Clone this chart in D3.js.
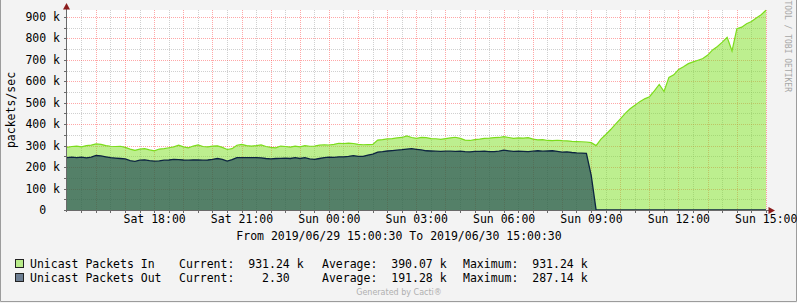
<!DOCTYPE html>
<meta charset="utf-8">
<style>
  body { margin: 0; background: #fff; }
  svg text { font-family: "DejaVu Sans Mono", monospace; font-size: 11.5px; fill: #000; white-space: pre; }
</style>
<svg width="797" height="303"></svg>
<script src="https://d3js.org/d3.v7.min.js"></script>
<script>
    // one sample every 10 minutes, values in k packets/sec
    var startTime = new Date(2019, 5, 29, 15, 0, 30),
        endTime = new Date(2019, 5, 30, 15, 0, 30);

    var packetsIn = [
        292,296,298,294,300,302,308,306,300,297,
        296,297,292,284,278,284,286,280,276,284,
        286,290,294,302,294,290,298,303,296,294,
        298,299,292,282,286,302,306,300,298,300,
        303,296,292,290,298,296,293,298,294,300,
        297,298,302,304,303,306,311,310,312,310,
        306,304,305,306,326,328,331,333,336,338,
        345,338,334,338,337,333,332,329,333,336,
        339,334,326,324,328,330,334,335,337,338,
        342,338,334,336,335,337,330,327,328,324,
        323,325,323,322,320,319,318,317,314,300,
        330,352,375,400,425,450,472,488,505,518,
        528,555,585,552,618,630,655,668,682,690,
        698,706,722,746,762,782,805,741,845,852,
        868,878,895,910,931
    ];

    var packetsOut = [
        244,246,244,246,243,246,254,252,248,244,
        242,240,238,230,227,232,234,230,228,229,
        232,233,236,235,233,232,234,233,232,233,
        236,240,236,228,235,244,244,244,244,244,
        243,240,238,240,241,242,240,244,240,244,
        238,236,240,244,246,245,248,248,250,253,
        250,250,256,260,270,272,275,277,279,281,
        284,286,283,280,276,275,274,273,274,274,
        273,274,272,271,273,273,274,272,272,274,
        279,276,273,274,273,272,274,276,274,275,
        276,273,270,271,268,266,265,264,160,0.0023,
        0.0023,0.0023,0.0023,0.0023,0.0023,0.0023,0.0023,0.0023,0.0023,0.0023,
        0.0023,0.0023,0.0023,0.0023,0.0023,0.0023,0.0023,0.0023,0.0023,0.0023,
        0.0023,0.0023,0.0023,0.0023,0.0023,0.0023,0.0023,0.0023,0.0023,0.0023,
        0.0023,0.0023,0.0023,0.0023,0.0023
    ];

    var seriesNames = ["Unicast Packets In", "Unicast Packets Out"];
    var currentVals = [931.24, 2.30],  currentUnits = ["k", ""];
    var averageVals = [390.07, 191.28], averageUnits = ["k", "k"];
    var maximumVals = [931.24, 287.14], maximumUnits = ["k", "k"];

    var svg = d3.select("svg"),
        W = 797, H = 303,
        plot = {left: 67, right: 766, top: 10, bottom: 210};

    var x = d3.scaleTime().domain([startTime, endTime]).range([plot.left, plot.right]);
    var y = d3.scaleLinear().domain([0, 932]).range([plot.bottom, plot.top]);

    var times = packetsIn.map(function (d, i) { return d3.timeMinute.offset(startTime, i * 10); });
    var px = function (v) { return Math.round(v) + 0.5; };

    // background + frame
    svg.append("rect").attr("width", W).attr("height", H).attr("fill", "#f3f3f3");
    svg.append("path")
        .attr("d", "M0.5,0 V301.5 H796.5 V0")
        .attr("fill", "none").attr("stroke", "#9c9c9c");
    svg.append("rect")
        .attr("x", plot.left).attr("y", plot.top)
        .attr("width", plot.right - plot.left).attr("height", plot.bottom - plot.top)
        .attr("fill", "#fff");

    // grid, drawn under the translucent areas like rrdtool does
    var grid = svg.append("g").attr("stroke-dasharray", "1,1").attr("stroke-width", 1);
    var halfHours = d3.timeMinute.every(30).range(startTime, d3.timeSecond.offset(endTime, 1));
    grid.selectAll("line.v").data(halfHours).enter().append("line")
        .attr("x1", function (d) { return px(x(d)); })
        .attr("x2", function (d) { return px(x(d)); })
        .attr("y1", plot.top).attr("y2", plot.bottom)
        .attr("stroke", function (d) { return d.getMinutes() === 0 ? "rgba(255,60,60,0.45)" : "rgba(150,150,150,0.45)"; });
    var gridVals = y.ticks(20).filter(function (v) { return v > 0; });
    grid.selectAll("line.h").data(gridVals).enter().append("line")
        .attr("y1", function (d) { return px(y(d)); })
        .attr("y2", function (d) { return px(y(d)); })
        .attr("x1", plot.left).attr("x2", plot.right)
        .attr("stroke", function (d) { return d % 100 === 0 ? "rgba(255,60,60,0.45)" : "rgba(150,150,150,0.45)"; });

    // areas
    var areaIn = d3.area()
        .x(function (d, i) { return x(times[i]); })
        .y0(y(0))
        .y1(function (d) { return y(d); });
    var lineFn = d3.line()
        .x(function (d, i) { return x(times[i]); })
        .y(function (d) { return y(d); });

    svg.append("path").datum(packetsIn)
        .attr("d", areaIn)
        .attr("fill", "rgba(128,224,40,0.52)");
    svg.append("path").datum(packetsOut)
        .attr("d", areaIn)
        .attr("fill", "rgba(20,60,80,0.62)");
    svg.append("path").datum(packetsIn)
        .attr("d", lineFn)
        .attr("fill", "none").attr("stroke", "#7cdc1c").attr("stroke-width", 1.2);
    svg.append("path").datum(packetsOut)
        .attr("d", lineFn)
        .attr("fill", "none").attr("stroke", "#0c2440").attr("stroke-width", 1.3);

    // axes lines, ticks and arrows
    var ax = svg.append("g").attr("stroke", "#6a6a6a").attr("stroke-width", 1);
    ax.append("line").attr("x1", 66.5).attr("x2", 66.5).attr("y1", 212).attr("y2", 8);
    ax.append("line").attr("x1", 64).attr("x2", 770).attr("y1", 210.5).attr("y2", 210.5);
    ax.selectAll("line.tx").data(halfHours).enter().append("line")
        .attr("x1", function (d) { return px(x(d)); })
        .attr("x2", function (d) { return px(x(d)); })
        .attr("y1", 211).attr("y2", 213);
    ax.selectAll("line.ty").data(gridVals).enter().append("line")
        .attr("y1", function (d) { return px(y(d)); })
        .attr("y2", function (d) { return px(y(d)); })
        .attr("x1", 64).attr("x2", 66);
    svg.append("path").attr("d", "M66.5,3 L63,9.5 L70,9.5 Z").attr("fill", "#8b1c1c");
    svg.append("path").attr("d", "M775,210.5 L768.5,207 L768.5,214 Z").attr("fill", "#8b1c1c");

    // y labels
    svg.append("g").selectAll("text").data(y.ticks(10)).enter().append("text")
        .attr("x", 60)
        .attr("y", function (d) { return y(d); })
        .attr("dy", "0.36em")
        .attr("text-anchor", "end")
        .text(function (d) { return d === 0 ? "0  " : d + " k"; });

    // x labels
    var xAxis = d3.axisBottom(x)
        .tickValues(d3.timeHour.every(3).range(d3.timeSecond.offset(startTime, 1), d3.timeSecond.offset(endTime, 1)))
        .tickFormat(d3.timeFormat("%a %H:%M"))
        .tickSize(0).tickPadding(5);
    var xg = svg.append("g").attr("transform", "translate(0,210)").call(xAxis);
    xg.select(".domain").remove();
    xg.selectAll("text").attr("font-family", null).attr("font-size", null)
        .style("font-family", "'DejaVu Sans Mono', monospace").style("font-size", "11.5px").attr("fill", "#000");

    svg.append("text")
        .attr("transform", "translate(15,110) rotate(-90)")
        .attr("text-anchor", "middle")
        .text("packets/sec");

    svg.append("text")
        .attr("x", 399).attr("y", 240)
        .attr("text-anchor", "middle")
        .text("From 2019/06/29 15:00:30 To 2019/06/30 15:00:30");

    // watermark
    svg.append("text")
        .attr("transform", "translate(785,92) rotate(90)")
        .attr("text-anchor", "end")
        .style("font-size", "8px").style("fill", "#a6a6a6")
        .text("RRDTOOL / TOBI OETIKER");

    // legend
    var fmt = d3.format(">8.2f");
    var swatch = ["#b9ec8a", "#6d7e92"];
    seriesNames.forEach(function (name, i) {
        var yy = 268 + i * 14;
        svg.append("rect").attr("x", 15.5).attr("y", yy - 8.5).attr("width", 8).attr("height", 8)
            .attr("fill", swatch[i]).attr("stroke", "#222");
        svg.append("text").attr("x", 30).attr("y", yy).text(name);
        svg.append("text").attr("x", 179).attr("y", yy).text("Current:" + fmt(currentVals[i]) + " " + currentUnits[i]);
        svg.append("text").attr("x", 322).attr("y", yy).text("Average:" + fmt(averageVals[i]) + " " + averageUnits[i]);
        svg.append("text").attr("x", 463).attr("y", yy).text("Maximum:" + fmt(maximumVals[i]) + " " + maximumUnits[i]);
    });

    svg.append("text")
        .attr("x", 399).attr("y", 295)
        .attr("text-anchor", "middle")
        .style("font-family", "'DejaVu Sans', sans-serif").style("font-size", "8px").style("fill", "#b0b0b0")
        .text("Generated by Cacti®");
</script>
